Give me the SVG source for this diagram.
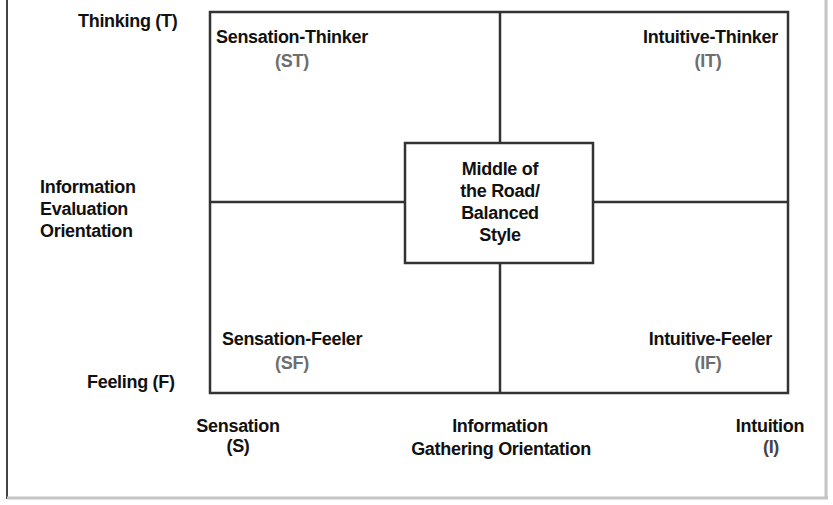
<svg xmlns="http://www.w3.org/2000/svg" width="833" height="505" viewBox="0 0 833 505">
  <style>
    text { font-family: "Liberation Sans", Arial, sans-serif; font-weight: bold; font-size: 18px; letter-spacing: -0.3px; fill: #111; }
    .abbr { fill: #6e6e6e; }
    .mid { text-anchor: middle; }
    .end { text-anchor: end; }
    .grid { stroke: #333; stroke-width: 2.5; fill: none; }
    .frame { stroke: #444; stroke-width: 2; fill: none; }
    .frame-light { stroke: #c4c4c4; stroke-width: 3; fill: none; }
  </style>

  <rect width="833" height="505" fill="#ffffff"/>

  <!-- page frame -->
  <g id="frame">
    <line class="frame" x1="7" y1="0" x2="7" y2="499"/>
    <line class="frame-light" x1="7" y1="498" x2="828" y2="498"/>
    <line class="frame-light" x1="826" y1="0" x2="826" y2="498"/>
  </g>

  <!-- quadrant grid -->
  <g id="connectors">
    <rect class="grid" x="210" y="12" width="578" height="381"/>
    <line class="grid" x1="500" y1="12" x2="500" y2="143"/>
    <line class="grid" x1="500" y1="263" x2="500" y2="393"/>
    <line class="grid" x1="210" y1="202" x2="405" y2="202"/>
    <line class="grid" x1="593" y1="202" x2="788" y2="202"/>
  </g>

  <!-- axis labels -->
  <g id="axis-evaluation">
    <text x="78" y="27">Thinking (T)</text>
    <text x="40" y="193">Information</text>
    <text x="40" y="215">Evaluation</text>
    <text x="40" y="237">Orientation</text>
    <text x="87" y="388">Feeling (F)</text>
  </g>

  <g id="axis-gathering">
    <text class="mid" x="238" y="432">Sensation</text>
    <text class="mid" x="238" y="452">(S)</text>
    <text class="mid" x="500" y="432">Information</text>
    <text class="mid" x="501" y="455">Gathering Orientation</text>
    <text class="mid" x="770" y="432">Intuition</text>
    <text class="mid" x="771" y="453" style="fill:#444">(I)</text>
  </g>

  <!-- quadrants -->
  <g id="sensation-thinker">
    <text x="216" y="43">Sensation-Thinker</text>
    <text class="abbr mid" x="292" y="67">(ST)</text>
  </g>

  <g id="intuitive-thinker">
    <text class="end" x="778" y="43">Intuitive-Thinker</text>
    <text class="abbr mid" x="708" y="67">(IT)</text>
  </g>

  <g id="sensation-feeler">
    <text x="222" y="345">Sensation-Feeler</text>
    <text class="abbr mid" x="292" y="369">(SF)</text>
  </g>

  <g id="intuitive-feeler">
    <text class="end" x="772" y="345">Intuitive-Feeler</text>
    <text class="abbr mid" x="708" y="369">(IF)</text>
  </g>

  <!-- centre style -->
  <g id="balanced-style">
    <rect x="405" y="143" width="188" height="120" fill="#ffffff" stroke="#333" stroke-width="2.5"/>
    <text class="mid" x="500" y="175">Middle of</text>
    <text class="mid" x="500" y="197">the Road/</text>
    <text class="mid" x="500" y="219">Balanced</text>
    <text class="mid" x="500" y="241">Style</text>
  </g>
</svg>
